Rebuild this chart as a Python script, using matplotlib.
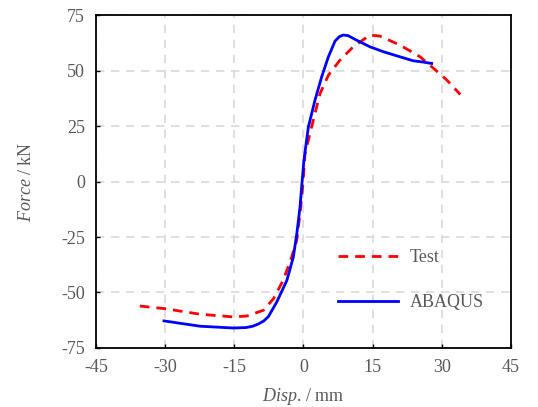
import matplotlib
matplotlib.use("Agg")
import matplotlib.pyplot as plt

plt.rcParams['font.family'] = ['Liberation Serif', 'DejaVu Serif']
plt.rcParams['mathtext.fontset'] = 'custom'
plt.rcParams['mathtext.rm'] = 'Liberation Serif'
plt.rcParams['mathtext.it'] = 'Liberation Serif:italic'
plt.rcParams['axes.unicode_minus'] = False

test_x = [-35.5, -30, -22.4, -15.2, -12.3, -8.7, -6.5, -4.4, -2.56, -1.47, -0.75, -0.17, 0.34, 1.4, 2.5, 3.6, 5.4, 7.9, 10.8, 14.4, 16.6, 20.9, 25.3, 28.2, 31.1, 34.0]
test_y = [-56.1, -57.3, -59.8, -61.0, -60.6, -58.0, -52.8, -44.5, -34.0, -26.5, -14.4, -2.4, 12.6, 21.6, 30.7, 39.7, 47.9, 54.7, 60.7, 66.0, 65.5, 61.5, 56.2, 51.0, 45.7, 39.2]

abq_x = [-30.25, -22.4, -15.2, -12.5, -11.0, -9.8, -8.6, -7.6, -5.8, -3.6, -2.2, -1.45, -0.75, -0.4, 0.1, 1.06, 2.5, 3.95, 5.4, 6.85, 7.8, 8.65, 9.7, 11.5, 14.4, 17.3, 20.9, 23.8, 26.0, 27.8]
abq_y = [-62.8, -65.2, -66.0, -65.8, -65.2, -64.2, -62.8, -60.8, -54.3, -44.5, -34.0, -23.5, -11.4, -2.4, 9.6, 24.6, 36.7, 47.2, 56.2, 63.3, 65.3, 66.0, 65.7, 63.7, 60.7, 58.5, 56.2, 54.4, 53.8, 53.2]

xticks = [-45, -30, -15, 0, 15, 30, 45]
yticks = [-75, -50, -25, 0, 25, 50, 75]

fig = plt.figure(figsize=(5.38, 4.07), dpi=100)
ax = fig.add_axes([0.1784, 0.145, 0.7714, 0.818])

ax.plot(test_x, test_y, color='#ff0000', lw=2.0, ls=(0, (3.5, 2.5)), label='Test')
ax.plot(abq_x, abq_y, color='#0000ff', lw=2.0, label='ABAQUS')

ax.set_xlim(-45, 45)
ax.set_ylim(-75, 75)
ax.set_xticks(xticks)
ax.set_yticks(yticks)
ax.grid(True, color='#d9d9d9', ls=(0, (5, 4)), lw=1.2)
ax.set_axisbelow(True)
ax.tick_params(direction='in', length=3, width=1, color='black', labelsize=13, labelcolor='#595959')
ax.tick_params(axis='y', pad=8)
ax.tick_params(axis='x', pad=8)
for s in ax.spines.values():
    s.set_linewidth(1.3)
    s.set_color('black')

ax.set_xlabel(r'$\mathit{Disp.}\,/\ \mathrm{mm}$', fontsize=13, color='#595959', labelpad=7)
ax.set_ylabel(r'$\mathit{Force}\ /\ \mathrm{kN}$', fontsize=13, color='#595959', labelpad=19)

leg = ax.legend(loc='lower right', bbox_to_anchor=(0.973, 0.062), frameon=False,
                fontsize=13, handlelength=3.3, labelspacing=1.55, handletextpad=0.65)
for t in leg.get_texts():
    t.set_color('#595959')

fig.savefig('out.png', dpi=100)
